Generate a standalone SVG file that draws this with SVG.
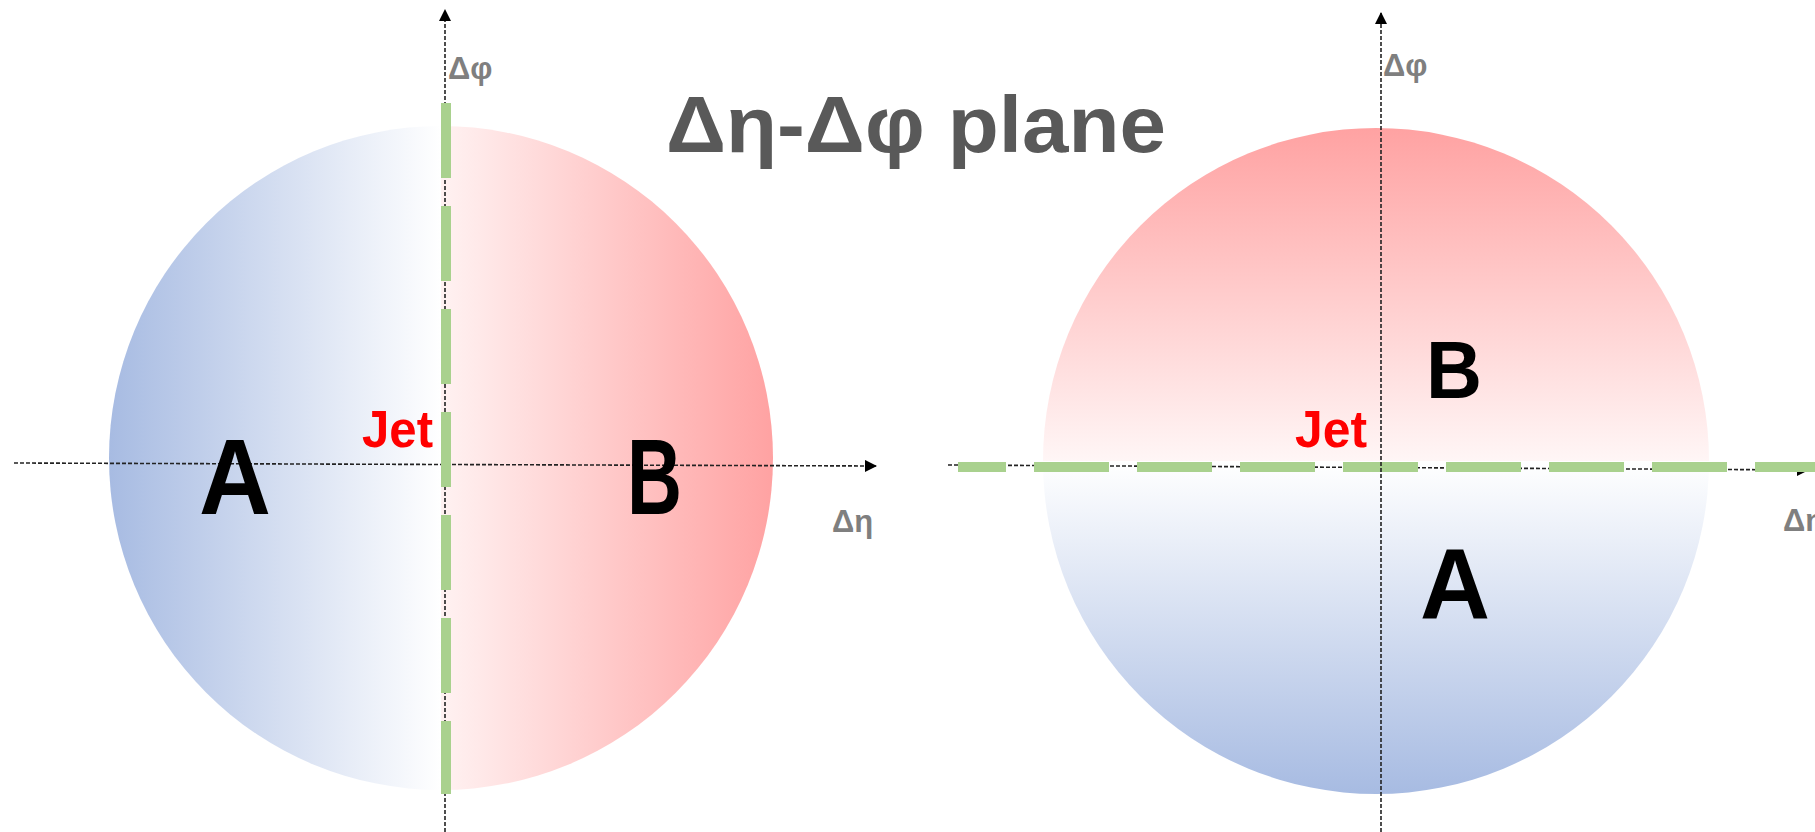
<svg xmlns="http://www.w3.org/2000/svg" width="1815" height="832" viewBox="0 0 1815 832">
<style>
.axis{stroke:#222;stroke-width:1.6;stroke-dasharray:4 2;fill:none}
.jetline{stroke:#A9D18E;stroke-width:10;stroke-dasharray:75 28;fill:none}
.lbl{font-family:"Liberation Sans",Arial,sans-serif;font-weight:bold;fill:#000}
.ax{font-family:"Liberation Sans",Arial,sans-serif;font-weight:bold;fill:#7F7F7F;font-size:31px}
.jet{font-family:"Liberation Sans",Arial,sans-serif;font-weight:bold;fill:#FF0000;font-size:52px}
</style>
<defs>
<linearGradient id="gL" x1="0" y1="0" x2="1" y2="0">
<stop offset="0" stop-color="#A7BBE2"/>
<stop offset="0.5" stop-color="#FFFFFF"/>
<stop offset="0.5" stop-color="#FFF2F2"/>
<stop offset="1" stop-color="#FFA2A2"/>
</linearGradient>
<linearGradient id="gR" x1="0" y1="0" x2="0" y2="1">
<stop offset="0" stop-color="#FFA2A2"/>
<stop offset="0.5" stop-color="#FFF6F6"/>
<stop offset="0.5" stop-color="#FFFFFF"/>
<stop offset="1" stop-color="#A7BBE2"/>
</linearGradient>
<marker id="arr" viewBox="0 0 12 12" refX="11" refY="6" markerWidth="12" markerHeight="12" markerUnits="userSpaceOnUse" orient="auto">
<path d="M0,0 L12,6 L0,12 Z" fill="#000"/>
</marker>
</defs>
<g id="circle-left"><circle cx="441" cy="458" r="332" fill="url(#gL)"/></g>
<g id="circle-right"><circle cx="1376" cy="461" r="333" fill="url(#gR)"/></g>
<g id="axes">
<line class="axis" x1="14" y1="463" x2="876" y2="466" marker-end="url(#arr)"/>
<line class="axis" x1="445" y1="832" x2="445" y2="10" marker-end="url(#arr)"/>
<line class="axis" x1="948" y1="465" x2="1808" y2="470" marker-end="url(#arr)"/>
</g>
<g id="divider-right"><line class="jetline" x1="958" y1="467" x2="1815" y2="467" stroke-dashoffset="27"/></g>
<g id="axis-right-vertical"><line class="axis" x1="1381" y1="832" x2="1381" y2="13" marker-end="url(#arr)"/></g>
<g id="divider-left"><line class="jetline" x1="446" y1="103" x2="446" y2="794"/></g>
<g id="axis-labels">
<text class="ax" x="448" y="79">Δφ</text>
<text class="ax" x="832" y="532">Δη</text>
<text class="ax" x="1383" y="76">Δφ</text>
<text class="ax" x="1783" y="531">Δη</text>
</g>
<g id="title"><text x="666" y="152" font-family="Liberation Sans,Arial,sans-serif" font-weight="bold" font-size="80" fill="#595959" textLength="500" lengthAdjust="spacingAndGlyphs">Δη-Δφ plane</text></g>
<g id="left-labels">
<text class="jet" x="362" y="447" textLength="71" lengthAdjust="spacingAndGlyphs">Jet</text>
<text class="lbl" x="199" y="514" font-size="108" textLength="72" lengthAdjust="spacingAndGlyphs">A</text>
<text class="lbl" x="627" y="514" font-size="108" textLength="55" lengthAdjust="spacingAndGlyphs">B</text>
</g>
<g id="right-labels">
<text class="jet" x="1295" y="447" textLength="72" lengthAdjust="spacingAndGlyphs">Jet</text>
<text class="lbl" x="1426" y="398" font-size="82" textLength="56" lengthAdjust="spacingAndGlyphs">B</text>
<text class="lbl" x="1420" y="619" font-size="100" textLength="70" lengthAdjust="spacingAndGlyphs">A</text>
</g>
</svg>
